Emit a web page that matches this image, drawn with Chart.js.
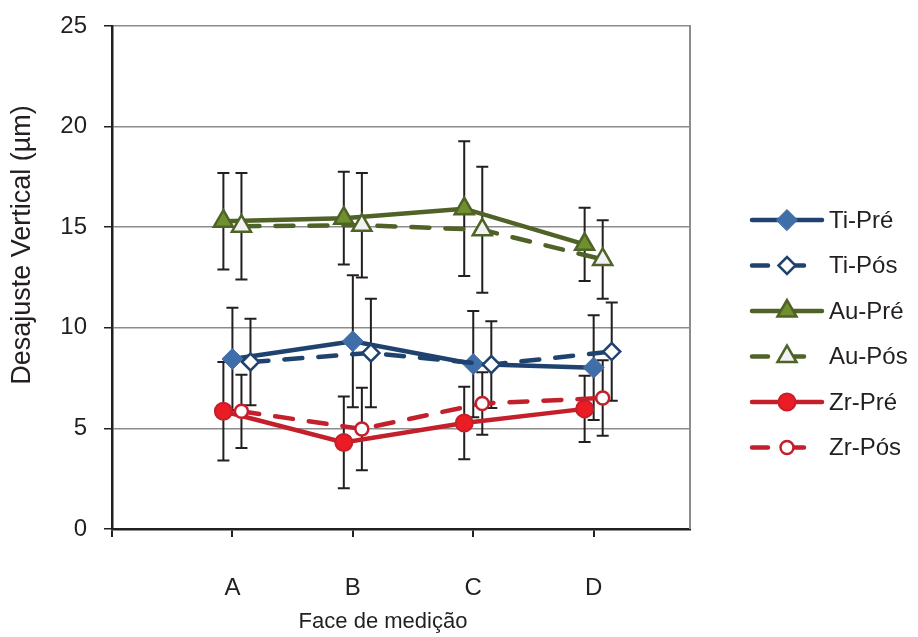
<!DOCTYPE html>
<html>
<head>
<meta charset="utf-8">
<script src="https://cdn.jsdelivr.net/npm/chart.js@4/dist/chart.umd.min.js"></script>
<style>
  html, body { margin: 0; padding: 0; background: #fff; }
  #wrap { width: 918px; height: 637px; position: relative; }
</style>
</head>
<body>
<div id="wrap"><canvas id="chart"></canvas></div>
<script>
// faces
const categories = ["A", "B", "C", "D"];

// mean values (µm) and error bar half-widths
const tiPre = [8.45, 9.33, 8.2, 8.02];
const tiPreErr = [2.55, 3.28, 2.64, 2.6];
const tiPos = [8.3, 8.75, 8.17, 8.82];
const tiPosErr = [2.15, 2.7, 2.16, 2.44];
const auPre = [15.3, 15.45, 15.92, 14.15];
const auPreErr = [2.4, 2.3, 3.35, 1.82];
const auPos = [15.05, 15.1, 14.87, 13.4];
const auPosErr = [2.65, 2.6, 3.13, 1.95];
const zrPre = [5.85, 4.3, 5.27, 5.97];
const zrPreErr = [2.45, 2.28, 1.8, 1.65];
const zrPos = [5.85, 4.97, 6.24, 6.51];
const zrPosErr = [1.82, 2.05, 1.55, 1.88];

const yTicks = [0, 5, 10, 15, 20, 25];

const FONT = "'Liberation Sans', Arial, sans-serif";
const INK = "#231F20";

function series(label, values, errors, shift, look) {
  return Object.assign({
    label: label,
    data: values.map((v, i) => ({ x: i + 1 + shift, y: v })),
    errors: errors,
    borderWidth: 4.5,
    borderCapStyle: "round",
    tension: 0,
    pointHoverRadius: look.pointRadius
  }, look);
}

const datasets = [
  series("Ti-Pré", tiPre, tiPreErr, 0, {
    borderColor: "#1F426E", pointStyle: "rectRot", pointRadius: 10.5,
    pointBackgroundColor: "#3F6EA9", pointBorderColor: "#3F6EA9", pointBorderWidth: 1, order: 5
  }),
  series("Ti-Pós", tiPos, tiPosErr, 0.15, {
    borderColor: "#1F426E", borderDash: [18, 16], pointStyle: "rectRot", pointRadius: 8.5,
    pointBackgroundColor: "#ffffff", pointBorderColor: "#1F426E", pointBorderWidth: 2.5, order: 4
  }),
  series("Au-Pré", auPre, auPreErr, -0.075, {
    borderColor: "#4F6228", pointStyle: "triangle", pointRadius: 11,
    pointBackgroundColor: "#70902F", pointBorderColor: "#4F6228", pointBorderWidth: 2.5, order: 3
  }),
  series("Au-Pós", auPos, auPosErr, 0.075, {
    borderColor: "#4F6228", borderDash: [18, 16], pointStyle: "triangle", pointRadius: 11,
    pointBackgroundColor: "#F2F2F2", pointBorderColor: "#4F6228", pointBorderWidth: 2.5, order: 2
  }),
  series("Zr-Pré", zrPre, zrPreErr, -0.075, {
    borderColor: "#C4202B", pointStyle: "circle", pointRadius: 8.5,
    pointBackgroundColor: "#EC1C24", pointBorderColor: "#C4202B", pointBorderWidth: 2, order: 1
  }),
  series("Zr-Pós", zrPos, zrPosErr, 0.075, {
    borderColor: "#C4202B", borderDash: [18, 16], pointStyle: "circle", pointRadius: 6.5,
    pointBackgroundColor: "#ffffff", pointBorderColor: "#C4202B", pointBorderWidth: 2.5, order: 0
  })
];

// error bars, drawn under the lines and markers
const errorBars = {
  id: "errorBars",
  beforeDatasetsDraw(chart) {
    const ctx = chart.ctx;
    const y = chart.scales.y;
    ctx.save();
    ctx.strokeStyle = INK;
    ctx.lineWidth = 2;
    chart.data.datasets.forEach((ds, i) => {
      const meta = chart.getDatasetMeta(i);
      meta.data.forEach((pt, j) => {
        const v = ds.data[j].y, e = ds.errors[j];
        const top = y.getPixelForValue(v + e);
        const bot = y.getPixelForValue(v - e);
        ctx.beginPath();
        ctx.moveTo(pt.x, top); ctx.lineTo(pt.x, bot);
        ctx.moveTo(pt.x - 6, top); ctx.lineTo(pt.x + 6, top);
        ctx.moveTo(pt.x - 6, bot); ctx.lineTo(pt.x + 6, bot);
        ctx.stroke();
      });
    });
    // right frame line
    const a = chart.chartArea;
    ctx.strokeStyle = "#8C8C8C";
    ctx.lineWidth = 2;
    ctx.beginPath();
    ctx.moveTo(a.right, a.top - 1);
    ctx.lineTo(a.right, a.bottom);
    ctx.stroke();
    ctx.restore();
  }
};

// axis titles (placed like the original, slightly off-centre)
const axisTitles = {
  id: "axisTitles",
  afterDraw(chart) {
    const ctx = chart.ctx;
    ctx.save();
    ctx.fillStyle = INK;
    ctx.textAlign = "center";
    ctx.textBaseline = "middle";
    ctx.font = "22px " + FONT;
    ctx.fillText("Face de medição", 383, 622);
    ctx.translate(23, 245);
    ctx.rotate(-Math.PI / 2);
    ctx.font = "27px " + FONT;
    ctx.fillText("Desajuste Vertical (µm)", 0, 0);
    ctx.restore();
  }
};

// legend on the right: line sample, marker, label
const sideLegend = {
  id: "sideLegend",
  afterDraw(chart) {
    const ctx = chart.ctx;
    const a = chart.chartArea;
    const x0 = a.right + 62, x1 = a.right + 132, xm = (x0 + x1) / 2;
    ctx.save();
    chart.data.datasets.forEach((ds, i) => {
      const yy = 220 + i * 45.5;
      const dashed = !!ds.borderDash;
      ctx.strokeStyle = ds.borderColor;
      ctx.lineWidth = ds.borderWidth;
      ctx.lineCap = "round";
      ctx.setLineDash(dashed ? [16, 20] : []);
      ctx.beginPath();
      ctx.moveTo(x0, yy); ctx.lineTo(dashed ? x1 - 15 : x1, yy);
      ctx.stroke();
      ctx.setLineDash([]);
      ctx.fillStyle = ds.pointBackgroundColor;
      ctx.strokeStyle = ds.pointBorderColor;
      ctx.lineWidth = ds.pointBorderWidth;
      Chart.helpers.drawPoint(ctx, {
        pointStyle: ds.pointStyle, radius: ds.pointRadius,
        borderWidth: ds.pointBorderWidth, rotation: 0
      }, xm, yy);
      ctx.fillStyle = INK;
      ctx.font = "24px " + FONT;
      ctx.textBaseline = "middle";
      ctx.textAlign = "left";
      ctx.fillText(ds.label, x1 + 7, yy + 1);
    });
    ctx.restore();
  }
};

new Chart(document.getElementById("chart"), {
  type: "line",
  data: { datasets: datasets },
  options: {
    responsive: true,
    maintainAspectRatio: false,
    animation: false,
    layout: { padding: { top: 26, right: 228, bottom: 0, left: 0 } },
    plugins: { legend: { display: false }, tooltip: { enabled: false } },
    scales: {
      x: {
        type: "linear",
        min: 0,
        max: 4.8,
        afterBuildTicks(scale) {
          scale.ticks = scale.ticks.filter(t => Number.isInteger(t.value));
        },
        afterFit(scale) { scale.height = 108; },
        ticks: {
          stepSize: 1,
          autoSkip: false,
          maxRotation: 0,
          padding: 37,
          color: INK,
          font: { family: FONT, size: 24 },
          callback: v => categories[v - 1] || ""
        },
        grid: { drawOnChartArea: false, drawTicks: true, tickLength: 8, tickColor: INK, lineWidth: 2 },
        border: { color: INK, width: 2.5 }
      },
      y: {
        min: 0,
        max: 25,
        afterBuildTicks(scale) {
          scale.ticks = yTicks.map(v => ({ value: v }));
        },
        afterFit(scale) { scale.width = 112; },
        ticks: {
          padding: 17,
          color: INK,
          font: { family: FONT, size: 24, lineHeight: 0.4 }
        },
        grid: {
          color: c => (c.tick && c.tick.value === 0 ? "rgba(0,0,0,0)" : "#8C8C8C"),
          lineWidth: 1.5,
          tickColor: INK,
          tickLength: 8,
          drawTicks: true
        },
        border: { color: INK, width: 2.5 }
      }
    }
  },
  plugins: [errorBars, axisTitles, sideLegend]
});
</script>
</body>
</html>
